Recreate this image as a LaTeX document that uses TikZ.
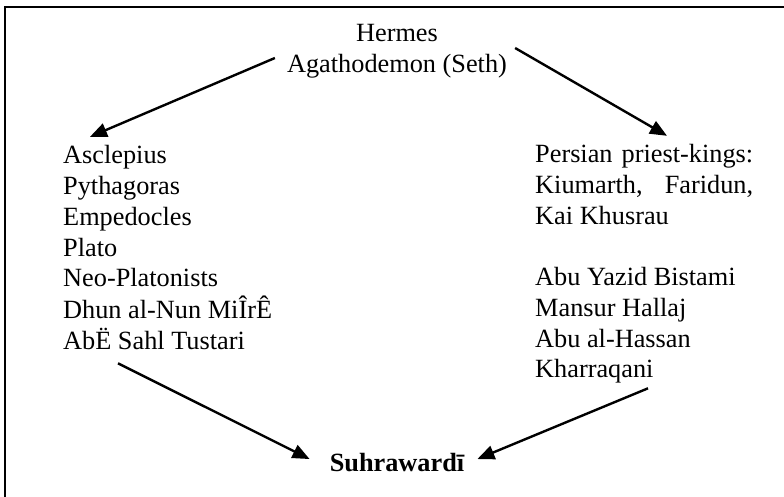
\documentclass[tikz,border=0pt]{standalone}
\usepackage{fontspec}
\setmainfont{Liberation Serif}
\usetikzlibrary{arrows.meta}
\begin{document}
\begin{tikzpicture}[x=1pt,y=-1pt,
  lbl/.style={inner sep=0pt, font=\fontsize{26.3}{30.7}\selectfont},
  arr/.style={line width=2.4pt, -{Triangle[length=17pt,width=14pt]}}]
\useasboundingbox (0,0) rectangle (784,497);
\draw[line width=1.8pt] (784,7) -- (5,7) -- (5,497);
\node[lbl, anchor=base] (top) at (397,42)
  {\begin{tabular}[t]{@{}c@{}}Hermes\\Agathodemon (Seth)\end{tabular}};
\node[lbl, anchor=base west] (left) at (63,164)
  {\begin{tabular}[t]{@{}l@{}}Asclepius\\Pythagoras\\Empedocles\\Plato\\Neo-Platonists\\Dhun al-Nun MiÎrÊ\\AbË Sahl Tustari\end{tabular}};
\node[lbl, anchor=base west] (right) at (535,163)
  {\begin{tabular}[t]{@{}l@{}}\makebox[218pt][s]{Persian\hfill priest-kings:}\\\makebox[218pt][s]{Kiumarth,\hfill Faridun,}\\Kai Khusrau\\ \\Abu Yazid Bistami\\Mansur Hallaj\\Abu al-Hassan\\Kharraqani\end{tabular}};
\node[lbl, anchor=base, font=\fontsize{26.3}{30.7}\selectfont\bfseries] (suh) at (397,471) {Suhrawardī};
\draw[arr] ([shift={(-12,6.8)}]top.west) -- ([shift={(27,-5.5)}]left.north west);
\draw[arr] ([shift={(8,-3.2)}]top.east) -- ([shift={(132,-5.5)}]right.north west);
\draw[arr] ([shift={(55,4.6)}]left.south west) -- ([shift={(-20,-3)}]suh.west);
\draw[arr] ([shift={(113,1)}]right.south west) -- ([shift={(13,-3)}]suh.east);
\end{tikzpicture}
\end{document}
